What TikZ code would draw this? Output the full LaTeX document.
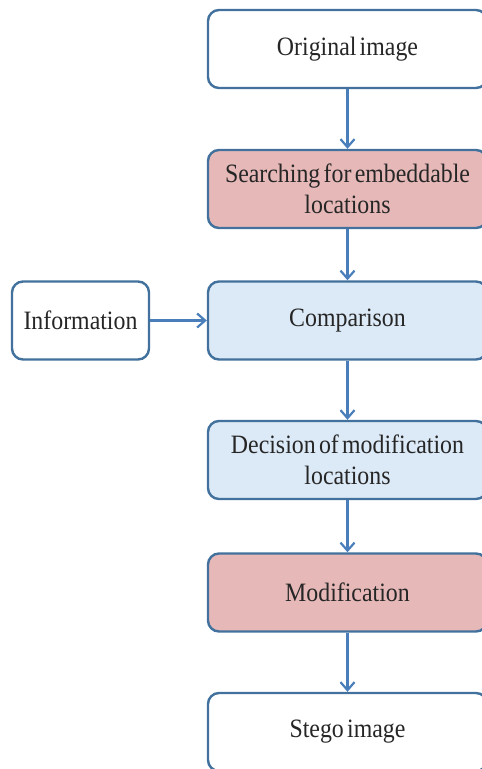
\documentclass[tikz,border=0pt]{standalone}
\usepackage{fontspec}
\setmainfont[FakeStretch=0.9,WordSpace=0.55]{Liberation Serif}
\usetikzlibrary{arrows.meta}
\definecolor{edgeblue}{HTML}{41719C}
\definecolor{linkblue}{HTML}{4A7EBB}
\definecolor{pinkfill}{HTML}{E6B9B8}
\definecolor{bluefill}{HTML}{DCE9F6}
\tikzset{
  flowbox/.style={draw=edgeblue, line width=2.4pt, rounded corners=11pt,
    minimum width=279pt, minimum height=78pt, align=center, inner sep=2pt,
    font=\fontsize{26.5}{31}\selectfont, text=black!85},
  sidebox/.style={flowbox, minimum width=137pt},
  plain/.style={fill=white},
  pinkbox/.style={fill=pinkfill},
  bluebox/.style={fill=bluefill},
  link/.style={draw=linkblue, line width=2.2pt,
    -{Straight Barb[length=8pt,width=14pt,line width=2.2pt]}}
}
\begin{document}
\begin{tikzpicture}[x=1pt,y=-1pt]
  \useasboundingbox (0,0) rectangle (482,769);
  \clip (0,0) rectangle (482,769);
  % main column of steps
  \node[flowbox,plain]   (orig)   at (347.5,49)    {Original image};
  \node[flowbox,pinkbox] (search) at (347.5,189)   {Searching for embeddable\\locations};
  \node[flowbox,bluebox] (comp)   at (347.5,320.5) {Comparison};
  \node[flowbox,bluebox] (decide) at (347.5,460)   {Decision of modification\\locations};
  \node[flowbox,pinkbox] (modify) at (347.5,592.5) {Modification};
  \node[flowbox,plain]   (stego)  at (347.5,732)   {Stego image};
  % side input
  \node[sidebox,plain]   (info)   at (80.5,320.5)  {Information};
  % connectors
  \draw[link] (orig) -- (search);
  \draw[link] (search) -- (comp);
  \draw[link] (comp) -- (decide);
  \draw[link] (decide) -- (modify);
  \draw[link] (modify) -- (stego);
  \draw[link] (info) -- (comp);
\end{tikzpicture}
\end{document}
